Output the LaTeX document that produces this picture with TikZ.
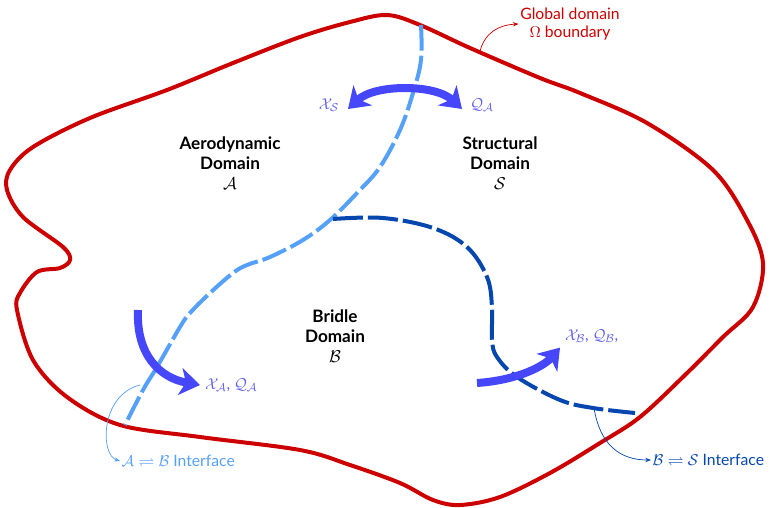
\documentclass[tikz,border=0pt]{standalone}
\usepackage{fontspec}
\setmainfont{Lato}
\usepackage{amsmath,amssymb}
\usetikzlibrary{arrows.meta}

\definecolor{omegared}{RGB}{205,0,0}
\definecolor{ablue}{RGB}{85,160,250}
\definecolor{bblue}{RGB}{5,70,175}
\definecolor{fluxblue}{RGB}{70,70,250}
\definecolor{fluxtext}{RGB}{95,95,240}

\tikzset{
  boundary/.style={line width=2.8pt,color=omegared},
  abline/.style={line width=2.8pt,color=ablue,dash pattern=on 18pt off 3.5pt},
  bsline/.style={line width=2.8pt,color=bblue,dash pattern=on 21pt off 3.5pt},
  flux/.style={line width=5.6pt,color=fluxblue},
  fluxtip/.tip={Stealth[length=14pt,width=19pt,inset=4pt]},
  fluxlbl/.style={text=fluxtext,font=\fontsize{11}{13}\selectfont},
  domname/.style={align=center,font=\large\bfseries,inner sep=1pt},
  note/.style={inner sep=1pt,font=\fontsize{11}{13}\selectfont},
  callout/.style={line width=.5pt,-{Stealth[length=4pt,width=3pt]}}
}

\begin{document}
\begin{tikzpicture}[x=.7pt,y=-.7pt]
\useasboundingbox (0,0) rectangle (770,507);

% global boundary
\draw[boundary] plot[smooth cycle,tension=.55] coordinates {
  (387,15) (420,25) (470,48) (540,78) (580,93) (647,123) (713,170) (747,220)
  (763,263) (753,307) (723,337) (685,375) (640,417) (600,443) (550,473)
  (500,497) (460,505) (433,500) (400,483) (350,465) (300,450) (200,437)
  (120,425) (67,397) (33,360) (17,310) (20,293) (37,272) (60,268) (70,260)
  (63,247) (23,217) (7,190) (10,170) (33,147) (90,118) (167,90) (233,63)
  (300,37) (350,22)};

% interfaces
\draw[abline] plot[smooth,tension=.6] coordinates {
  (421,25) (421,60) (413,93) (400,130) (380,167) (358,192) (330,220)
  (303,240) (270,257) (247,265) (233,273) (210,293) (190,313) (180,327)
  (157,367) (143,390) (125,425)};
\draw[bsline] plot[smooth,tension=.6] coordinates {
  (333,219) (383,218) (433,228) (467,247) (487,277) (492,307) (492,340)
  (497,357) (517,377) (560,400) (593,408) (635,413)};

% domain names
\node[domname] (aero) at (230,163) {Aerodynamic\\Domain\\\normalfont$\mathcal{A}$};
\node[domname] (struct) at (500,163) {Structural\\Domain\\\normalfont$\mathcal{S}$};
\node[domname] (bridle) at (335,336) {Bridle\\Domain\\\normalfont$\mathcal{B}$};

% exchanged quantities
\node[fluxlbl] (xs) at (329,105) {$\mathcal{X}_\mathcal{S}$};
\node[fluxlbl] (qa) at (482,105) {$\mathcal{Q}_\mathcal{A}$};
\node[fluxlbl,anchor=west] (xa) at (200,385) {$\mathcal{X}_\mathcal{A}$, $\mathcal{Q}_\mathcal{A}$};
\node[fluxlbl,anchor=west] (xb) at (560,336) {$\mathcal{X}_\mathcal{B}$, $\mathcal{Q}_\mathcal{B}$,};

\coordinate (sl) at (348,109);
\coordinate (sr) at (462,109);
\draw[flux,fluxtip-fluxtip] (sl) .. controls (375,84) and (435,84) .. (sr);
\coordinate (fa) at (138,310);
\draw[flux,-fluxtip] (fa) .. controls (136,355) and (160,378) .. (xa.west);
\coordinate (fb) at (477,383);
\draw[flux,-fluxtip] (fb) .. controls (520,380) and (545,365) .. (xb.south west);

% callouts
\node[note,text=omegared,align=center] (omega) at (570,24)
  {Global domain\\$\Omega$ boundary};
\coordinate (om) at (480,51);
\draw[callout,omegared] (om) .. controls (485,33) and (498,25) .. (omega.west);

\node[note,text=ablue,anchor=west] (abif) at (120,461)
  {$\mathcal{A}\rightleftharpoons\mathcal{B}$ Interface};
\coordinate (ab) at (140,385);
\draw[callout,ablue] (ab) .. controls (100,395) and (100,455) .. (abif.west);

\node[note,text=bblue,anchor=west] (bsif) at (651,460)
  {$\mathcal{B}\rightleftharpoons\mathcal{S}$ Interface};
\coordinate (bs) at (594,408);
\draw[callout,bblue] (bs) .. controls (600,445) and (620,460) .. (bsif.west);
\end{tikzpicture}
\end{document}
